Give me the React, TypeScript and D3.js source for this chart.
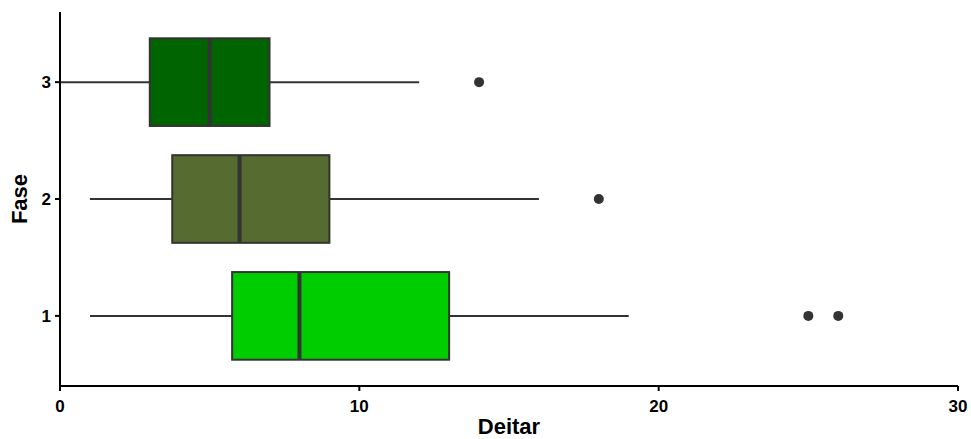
import React from "react";
import * as d3 from "d3";

// Five-number summaries per phase (Deitar), plus outliers
const fases = ["1", "2", "3"];
const lowerWhisker = [1, 1, 0];
const q1 = [5.75, 3.75, 3];
const median = [8, 6, 5];
const q3 = [13, 9, 7];
const upperWhisker = [19, 16, 12];
const outliers: number[][] = [[25, 26], [18], [14]];
const fills = ["#00CD00", "#556B2F", "#006400"];
const xTicks = [0, 10, 20, 30];

const W = 971;
const H = 439;
const left = 60;
const right = 958;
const top = 12;
const bottom = 386;

export default function App() {
  const x = d3.scaleLinear().domain([0, 30]).range([left, right]);
  const y = d3.scaleLinear().domain([0.4, 3.6]).range([bottom, top]);
  const boxH = y(0) - y(0.75);
  const font = "Liberation Sans, Arial, sans-serif";
  const stroke = "#333333";

  return (
    <svg
      width={W}
      height={H}
      style={{ position: "absolute", left: 0, top: 0, background: "#fff" }}
      fontFamily={font}
    >
      {fases.map((f, i) => {
        const cy = y(i + 1);
        return (
          <g key={f}>
            <line x1={x(lowerWhisker[i])} x2={x(q1[i])} y1={cy} y2={cy} stroke={stroke} strokeWidth={2} />
            <line x1={x(q3[i])} x2={x(upperWhisker[i])} y1={cy} y2={cy} stroke={stroke} strokeWidth={2} />
            <rect
              x={x(q1[i])}
              y={cy - boxH / 2}
              width={x(q3[i]) - x(q1[i])}
              height={boxH}
              fill={fills[i]}
              stroke={stroke}
              strokeWidth={2}
            />
            <line x1={x(median[i])} x2={x(median[i])} y1={cy - boxH / 2} y2={cy + boxH / 2} stroke={stroke} strokeWidth={4} />
            {outliers[i].map((o, j) => (
              <circle key={j} cx={x(o)} cy={cy} r={5} fill={stroke} />
            ))}
          </g>
        );
      })}

      {/* axes */}
      <line x1={left} x2={right} y1={bottom} y2={bottom} stroke="#000" strokeWidth={2} />
      <line x1={left} x2={left} y1={top} y2={bottom + 1} stroke="#000" strokeWidth={2} />
      {xTicks.map((t) => (
        <g key={t}>
          <line x1={x(t)} x2={x(t)} y1={bottom} y2={bottom + 5} stroke="#000" strokeWidth={2} />
          <text x={x(t)} y={bottom + 26} textAnchor="middle" fontSize={17} fontWeight="bold" fill="#000">
            {t}
          </text>
        </g>
      ))}
      {fases.map((f, i) => (
        <g key={f}>
          <line x1={left - 5} x2={left} y1={y(i + 1)} y2={y(i + 1)} stroke="#000" strokeWidth={2} />
          <text x={left - 9} y={y(i + 1)} dy="0.36em" textAnchor="end" fontSize={17} fontWeight="bold" fill="#000">
            {f}
          </text>
        </g>
      ))}
      <text x={(left + right) / 2} y={434} textAnchor="middle" fontSize={22} fontWeight="bold" fill="#000">
        Deitar
      </text>
      <text
        transform={`translate(27, ${(top + bottom) / 2}) rotate(-90)`}
        textAnchor="middle"
        fontSize={22}
        fontWeight="bold"
        fill="#000"
      >
        Fase
      </text>
    </svg>
  );
}
